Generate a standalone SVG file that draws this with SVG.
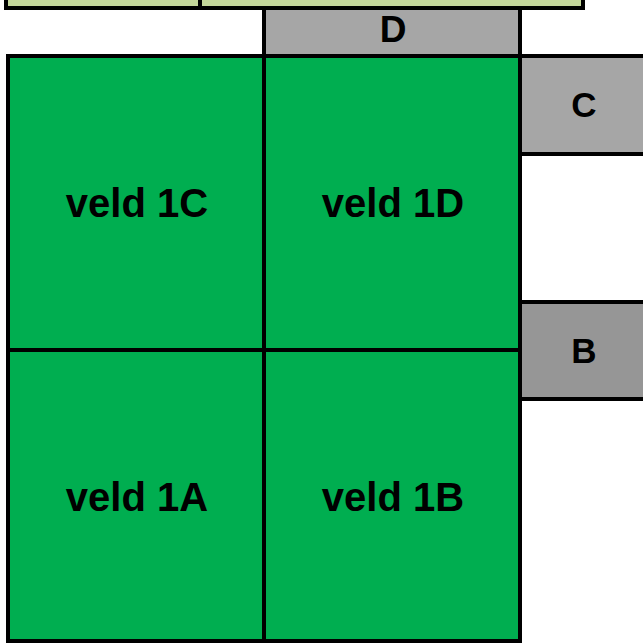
<svg xmlns="http://www.w3.org/2000/svg" width="643" height="643" viewBox="0 0 643 643">
<style>
.ln{stroke:#000;stroke-width:4}
.t{font-family:"Liberation Sans",Arial,sans-serif;font-weight:bold;fill:#000;text-anchor:middle}
.veld{fill:#00ae50}
</style>
<rect width="643" height="643" fill="#fff"/>
<g id="top-bar">
<rect x="6" y="-5" width="194" height="13" fill="#c4d79b" class="ln"/>
<rect x="200" y="-5" width="383" height="13" fill="#c4d79b" class="ln"/>
</g>
<g id="D">
<rect x="264" y="8" width="256" height="48" fill="#a6a6a6" class="ln"/>
<text class="t" x="393" y="42" font-size="37">D</text>
</g>
<g id="C">
<rect x="520" y="56" width="130" height="98" fill="#a6a6a6" class="ln"/>
<text class="t" x="584" y="117" font-size="35">C</text>
</g>
<g id="B">
<rect x="520" y="302" width="130" height="97" fill="#969696" class="ln"/>
<text class="t" x="584" y="363" font-size="35">B</text>
</g>
<g id="veld1C">
<rect x="8" y="56" width="256" height="294" class="veld ln"/>
<text class="t" x="137" y="217" font-size="40">veld 1C</text>
</g>
<g id="veld1D">
<rect x="264" y="56" width="256" height="294" class="veld ln"/>
<text class="t" x="393" y="217" font-size="40">veld 1D</text>
</g>
<g id="veld1A">
<rect x="8" y="350" width="256" height="291" class="veld ln"/>
<text class="t" x="137" y="511" font-size="40">veld 1A</text>
</g>
<g id="veld1B">
<rect x="264" y="350" width="256" height="291" class="veld ln"/>
<text class="t" x="393" y="511" font-size="40">veld 1B</text>
</g>
<g id="connectors"></g>
</svg>
